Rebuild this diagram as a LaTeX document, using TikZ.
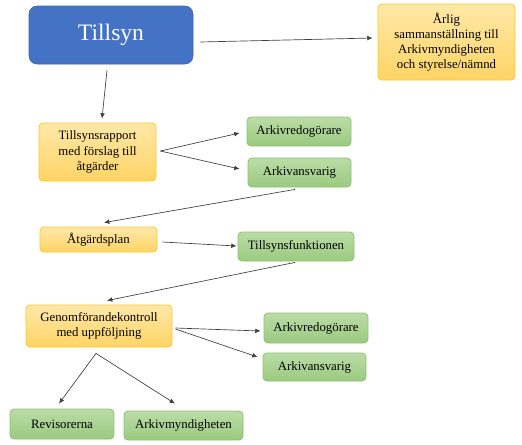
\documentclass[tikz,border=0pt]{standalone}
\usepackage{fontspec}
\setmainfont{Liberation Serif}
\usetikzlibrary{arrows.meta}
\definecolor{blu}{HTML}{4472C4}
\definecolor{bluline}{HTML}{3A64B0}
\definecolor{orgtop}{HTML}{FFE8A8}
\definecolor{orgbot}{HTML}{FFD465}
\definecolor{orgline}{HTML}{FFC62A}
\definecolor{grntop}{HTML}{BBDCA6}
\definecolor{grnbot}{HTML}{9ACA80}
\definecolor{grnline}{HTML}{8DC271}
\definecolor{pil}{HTML}{404040}

\begin{document}
\begin{tikzpicture}[x=0.75pt, y=-0.75pt,
        sz/.style 2 args={minimum width=#1*0.75pt, minimum height=#2*0.75pt, inner sep=1pt},
        txt/.style={font=\fontsize{9.6}{11.4}\selectfont, align=center, text=black},
        obox/.style={txt, draw=orgline, line width=0.6pt, rounded corners=3pt, top color=orgtop, bottom color=orgbot},
        gbox/.style={txt, draw=grnline, line width=0.6pt, rounded corners=3pt, top color=grntop, bottom color=grnbot},
        arr/.style={draw=pil, line width=0.5pt, -{Latex[length=4pt, width=3.5pt]}}]
        \useasboundingbox[fill=white] (0,0) rectangle (522,444);
        % top row
        \node[sz={164}{58}, draw=bluline, fill=blu, rounded corners=6pt, text=white,
              font=\fontsize{17.7}{20}\selectfont] (tillsyn) at (111,35) {Tillsyn};
        \node[obox, sz={137}{76}] (aarlig) at (446.5,42)
            {Årlig\\sammanställning till\\Arkivmyndigheten\\och styrelse/nämnd};
        % orange steps
        \node[obox, sz={117}{58}] (rapport) at (97.5,152) {Tillsynsrapport\\med förslag till\\åtgärder};
        \node[obox, sz={117}{25}] (plan) at (98.5,239.5) {Åtgärdsplan};
        \node[obox, sz={146}{42}] (genom) at (99,326) {Genomförandekontroll\\med uppföljning};
        % green receivers
        \foreach \n/\x/\y/\w/\h/\t in {redogA/299/131.5/104/29/Arkivredogörare,
                                      ansvA/299.5/172.5/103/29/Arkivansvarig,
                                      funk/296/246.5/116/29/Tillsynsfunktionen,
                                      redogB/316/328/104/30/Arkivredogörare,
                                      ansvB/314.5/367/103/28/Arkivansvarig,
                                      revis/62/424/104/30/Revisorerna,
                                      myndig/183.5/425.5/119/29/Arkivmyndigheten} {
            \node[gbox, sz={\w}{\h}] (\n) at (\x,\y) {\t};
        }
        % arrows
        \draw[arr] ([shift={(7,7)}]tillsyn.east) -- ([shift={(-5,-4)}]aarlig.west);
        \draw[arr] ([shift={(-4,6)}]tillsyn.south) -- ([shift={(4.5,-4)}]rapport.north);
        \draw[arr] ([shift={(4,-1)}]rapport.east) -- ([shift={(-7,1.5)}]redogA.west);
        \draw[arr] ([shift={(4,-1)}]rapport.east) -- ([shift={(-8,-3.5)}]ansvA.west);
        \draw[arr] ([shift={(-4.5,2)}]ansvA.south) -- ([shift={(5.5,-4)}]plan.north);
        \draw[arr] ([shift={(5,2.5)}]plan.east) -- ([shift={(-1,-0.5)}]funk.west);
        \draw[arr] ([shift={(-1,1)}]funk.south) -- ([shift={(8,-4)}]genom.north);
        \draw[arr] ([shift={(3,2)}]genom.east) -- ([shift={(-3,3)}]redogB.west);
        \draw[arr] ([shift={(3,3)}]genom.east) -- ([shift={(-5,-10)}]ansvB.west);
        \draw[arr] ([shift={(-3,6)}]genom.south) -- ([shift={(-3,-5)}]revis.north);
        \draw[arr] ([shift={(-3,6)}]genom.south) -- ([shift={(-8.5,-7)}]myndig.north);
\end{tikzpicture}
\end{document}
